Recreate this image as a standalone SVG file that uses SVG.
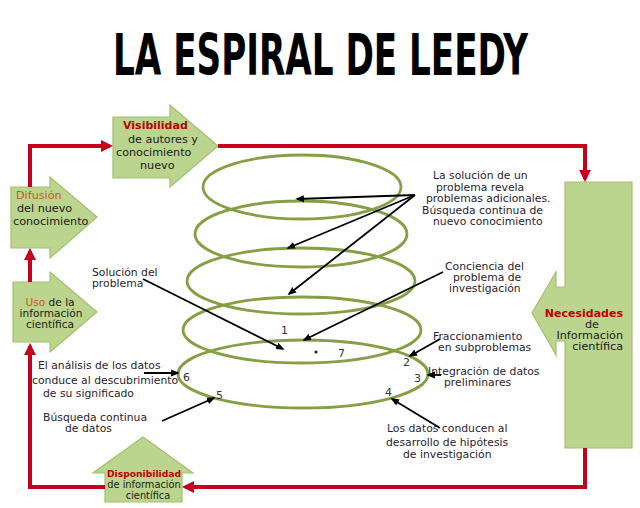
<svg xmlns="http://www.w3.org/2000/svg" width="640" height="508" viewBox="0 0 640 508">
<defs>
<style>
.t{font-family:"DejaVu Sans","Liberation Sans",sans-serif;font-size:10.8px;fill:#2a2330}
.b{font-family:"DejaVu Sans","Liberation Sans",sans-serif;font-size:11.2px;fill:#1a1a1a}
.hr{font-weight:bold;fill:#c00000}
.ho{fill:#c8581a}
.n{font-family:"DejaVu Sans","Liberation Sans",sans-serif;font-size:11px;fill:#333}
.shape{fill:#bcd58e;stroke:#a3bf6e;stroke-width:1.2}
.ell{fill:none;stroke:#85a044;stroke-width:2.8}
.red{fill:none;stroke:#c4001c;stroke-width:4;marker-end:url(#ra)}
.blk{fill:none;stroke:#000;stroke-width:1.8;marker-end:url(#ba)}
</style>
<marker id="ra" viewBox="0 0 10 10" refX="7.5" refY="5" markerWidth="3" markerHeight="3" orient="auto" markerUnits="strokeWidth">
<path d="M0,0 L10,5 L0,10 z" fill="#c4001c"/>
</marker>
<marker id="ba" viewBox="0 0 10 10" refX="8" refY="5" markerWidth="4.8" markerHeight="4.8" orient="auto" markerUnits="strokeWidth">
<path d="M0,1 L10,5 L0,9 z" fill="#000"/>
</marker>
</defs>
<rect width="640" height="508" fill="#fff"/>
<text x="113" y="75" style="font-family:'DejaVu Sans Condensed','Liberation Sans Narrow','DejaVu Sans',sans-serif;font-weight:bold;font-size:57px" textLength="415" lengthAdjust="spacingAndGlyphs" fill="#000">LA ESPIRAL DE LEEDY</text>

<g id="spiral">
<ellipse class="ell" cx="302" cy="187" rx="99" ry="32"/>
<ellipse class="ell" cx="301" cy="234" rx="106" ry="33"/>
<ellipse class="ell" cx="301" cy="281" rx="114" ry="33"/>
<ellipse class="ell" cx="302" cy="330" rx="119" ry="33"/>
<ellipse class="ell" cx="303" cy="374" rx="125" ry="34"/>
<text class="n" x="281" y="334">1</text>
<circle cx="316" cy="352" r="1.6" fill="#222"/>
<text class="n" x="338" y="357">7</text>
<text class="n" x="403" y="366">2</text>
<text class="n" x="414" y="382">3</text>
<text class="n" x="385" y="396">4</text>
<text class="n" x="216" y="399">5</text>
<text class="n" x="183" y="381">6</text>
</g>

<g id="visibilidad">
<polygon class="shape" points="113,117 170,117 170,105 218,146 170,187 170,178 113,178"/>
<text class="b hr" x="123" y="129" style="font-size:11px">Visibilidad</text>
<text class="b" x="128" y="143">de autores y</text>
<text class="b" x="116" y="156">conocimiento</text>
<text class="b" x="140" y="169">nuevo</text>
</g>

<g id="difusion">
<polygon class="shape" points="11,187 50,187 50,177 97,217 50,258 50,248 11,248"/>
<text class="b ho" x="16" y="199">Difusión</text>
<text class="b" x="17" y="212">del nuevo</text>
<text class="b" x="13" y="225">conocimiento</text>
</g>

<g id="uso">
<polygon class="shape" points="13,282 50,282 50,272 97,312 50,352 50,342 13,342"/>
<text class="b" x="50" y="306" style="font-size:10.6px" text-anchor="middle"><tspan class="ho">Uso</tspan> de la</text>
<text class="b" x="51" y="317" style="font-size:10.6px" text-anchor="middle">información</text>
<text class="b" x="50" y="328" style="font-size:10.6px" text-anchor="middle">científica</text>
</g>

<g id="disponibilidad">
<polygon class="shape" points="105,502 105,473 93,473 143,437 193,473 182,473 182,502"/>
<text class="b hr" x="144" y="477" style="font-size:9.2px" text-anchor="middle">Disponibilidad</text>
<text class="b" x="144" y="488" style="font-size:9.8px" text-anchor="middle">de información</text>
<text class="b" x="148" y="499" style="font-size:9.8px" text-anchor="middle">científica</text>
</g>

<g id="necesidades">
<polygon class="shape" points="565,182 632,182 632,448 565,448 565,341 556,341 556,355 532,313 556,272 556,287 565,287"/>
<text class="b hr" x="623" y="317" style="font-size:11px" text-anchor="end">Necesidades</text>
<text class="b" x="592" y="328" text-anchor="middle">de</text>
<text class="b" x="623" y="339" text-anchor="end">Información</text>
<text class="b" x="623" y="350" text-anchor="end">científica</text>
</g>

<g id="labels">
<text class="t" x="433" y="179">La solución de un</text>
<text class="t" x="436" y="191">problema revela</text>
<text class="t" x="426" y="202">problemas adicionales.</text>
<text class="t" x="422" y="214">Búsqueda continua de</text>
<text class="t" x="433" y="225">nuevo conocimiento</text>
<text class="t" x="445" y="270">Conciencia del</text>
<text class="t" x="453" y="281">problema de</text>
<text class="t" x="449" y="292">investigación</text>
<text class="t" x="92" y="276">Solución del</text>
<text class="t" x="92" y="287">problema</text>
<text class="t" x="433" y="340">Fraccionamiento</text>
<text class="t" x="438" y="351">en subproblemas</text>
<text class="t" x="428" y="375">Integración de datos</text>
<text class="t" x="444" y="386">preliminares</text>
<text class="t" x="387" y="432">Los datos conducen al</text>
<text class="t" x="386" y="446">desarrollo de hipótesis</text>
<text class="t" x="403" y="458">de investigación</text>
<text class="t" x="38" y="369">El análisis de los datos</text>
<text class="t" x="32" y="384">conduce al descubrimiento</text>
<text class="t" x="43" y="397">de su significado</text>
<text class="t" x="43" y="421">Búsqueda continua</text>
<text class="t" x="65" y="432">de datos</text>
</g>

<g id="connectors">
<path class="red" d="M30,187 V146 H110"/>
<path class="red" d="M218,146 H585 V179"/>
<path class="red" d="M585,448 V487 H185"/>
<path class="red" d="M105,487 H30 V346"/>
<path class="red" d="M30,282 V251"/>
<path class="blk" d="M415,195 L297,199"/>
<path class="blk" d="M415,195 L288,248"/>
<path class="blk" d="M415,195 L289,294"/>
<path class="blk" d="M143,279 L283,349"/>
<path class="blk" d="M443,272 L304,340"/>
<path class="blk" d="M440,339 L410,356"/>
<path class="blk" d="M441,375 L428,375"/>
<path class="blk" d="M440,428 L392,399"/>
<path class="blk" d="M162,421 L214,398"/>
<path class="blk" d="M144,373 L178,373"/>
</g>
</svg>
